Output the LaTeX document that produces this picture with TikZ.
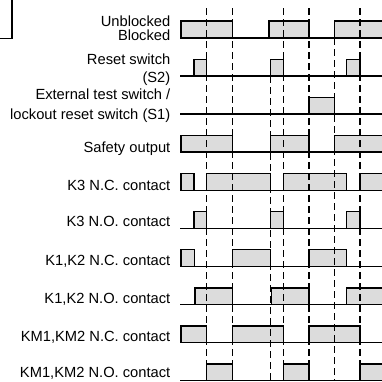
\documentclass[tikz,border=0pt]{standalone}
\usepackage{fontspec}
\setmainfont{Liberation Sans}
\definecolor{boxgray}{RGB}{220,220,220}
\begin{document}
\begin{tikzpicture}[x=1pt,y=-1pt,
  lbl/.style={anchor=base east,inner sep=0pt,font=\fontsize{14.7}{15}\selectfont},
  sigline/.style={line width=1.4pt,line cap=rect},
  pulse/.style={line width=1.4pt,fill=boxgray,line join=miter},
  guide/.style={line width=1.4pt,dash pattern=on 7pt off 4pt}]
\useasboundingbox (0,0) rectangle (382,381);
% corner fragment
\draw[line width=1.4pt] (12,0) -- (12,38.3) -- (0,38.3);
% labels
\node[lbl] (l1a) at (170.5,26) {Unblocked};
\node[lbl] (l1b) at (170.5,40.5) {Blocked};
\node[lbl] (l2a) at (170.5,64) {Reset switch};
\node[lbl] (l2b) at (170.5,82) {(S2)};
\node[lbl] (l3a) at (170.5,99) {External test switch /};
\node[lbl] (l3b) at (170.5,119) {lockout reset switch (S1)};
\node[lbl] (l4) at (170.5,152.5) {Safety output};
\node[lbl] (l5) at (170.5,190) {K3 N.C. contact};
\node[lbl] (l6) at (170.5,226.5) {K3 N.O. contact};
\node[lbl] (l7) at (170.5,265) {K1,K2 N.C. contact};
\node[lbl] (l8) at (170.5,303) {K1,K2 N.O. contact};
\node[lbl] (l9) at (170.5,341.5) {KM1,KM2 N.C. contact};
\node[lbl] (l10) at (170.5,377.8) {KM1,KM2 N.O. contact};
% closed pulses: row / x1 / x2
\foreach \r/\a/\b in {
  1/181/232.3, 1/269/309,
  2/194/206.7, 2/270.7/283.3, 2/346.7/360,
  3/309/334.3,
  4/181/232.3, 4/270.7/309,
  5/181/194, 5/206.7/270.7, 5/283.3/346.7,
  6/194/206.7, 6/270.7/283.3, 6/346.7/360,
  7/181/194.3, 7/232.3/270.3, 7/309/346.3,
  8/195/232.3, 8/271.7/309,
  9/181/206.7, 9/232.3/283.3, 9/309/360,
  10/206.7/232.3, 10/283.3/309}{
  \pgfmathsetmacro{\lo}{37.8+38.1*(\r-1)}
  \pgfmathsetmacro{\hi}{\lo-16.7}
  \draw[pulse] (\a,\lo) rectangle (\b,\hi);
}
% open pulses (continue past right edge)
\foreach \r/\a in {1/334.3, 4/334.3, 5/360, 8/346.7, 10/360}{
  \pgfmathsetmacro{\lo}{37.8+38.1*(\r-1)}
  \pgfmathsetmacro{\hi}{\lo-16.7}
  \fill[boxgray] (\a,\lo) rectangle (383,\hi);
  \draw[line width=1.4pt] (\a,\lo) -- (\a,\hi) -- (383,\hi);
}
% low lines
\foreach \r in {1,...,10}{
  \pgfmathsetmacro{\lo}{min(37.8+38.1*(\r-1),380.3)}
  \draw[sigline] (181,\lo) -- (382,\lo);
}
% guide lines
\foreach \x/\y in {206.7/8, 232.3/8, 270.7/76, 283.3/8, 309/8, 334.3/38, 360/8}{
  \draw[guide] (\x,\y) -- (\x,381);
}
\end{tikzpicture}
\end{document}
